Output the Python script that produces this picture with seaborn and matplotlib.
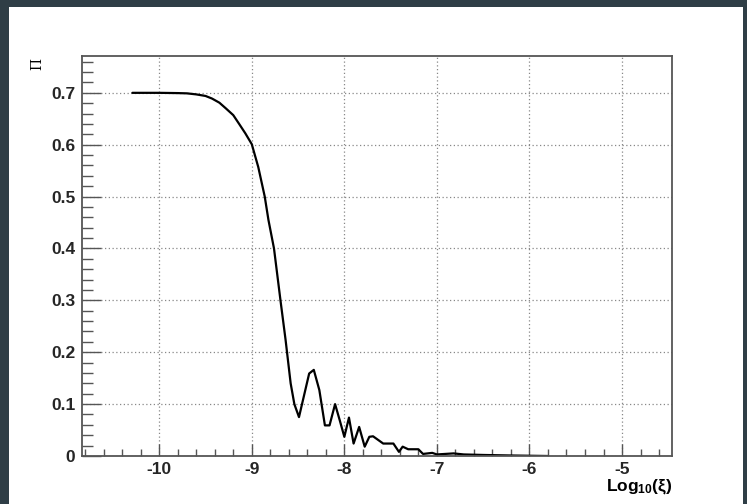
import numpy as np
import pandas as pd
import matplotlib
matplotlib.use("Agg")
import matplotlib.pyplot as plt
from matplotlib.patches import Rectangle
from matplotlib.ticker import MultipleLocator
import seaborn as sns

# ---- data ----
log_xi = [-10.29, -10.0, -9.8, -9.7, -9.6, -9.5, -9.43, -9.35, -9.28, -9.2,
          -9.14, -9.07, -9.0, -8.93, -8.86,
          -8.82, -8.76, -8.69, -8.635, -8.58, -8.54, -8.49, -8.38, -8.33, -8.27,
          -8.21, -8.16, -8.10, -8.05, -8.0, -7.95, -7.90, -7.84, -7.78, -7.73,
          -7.69, -7.58, -7.47, -7.41, -7.37, -7.31, -7.20, -7.15, -7.05, -7.0,
          -6.82, -6.71, -6.5, -6.2, -5.8]
pi_vals = [0.700, 0.700, 0.6995, 0.699, 0.697, 0.694, 0.689, 0.681, 0.670, 0.657,
           0.641, 0.622, 0.601, 0.557, 0.500,
           0.455, 0.400, 0.300, 0.224, 0.140, 0.100, 0.075, 0.159, 0.166, 0.127,
           0.059, 0.059, 0.100, 0.069, 0.037, 0.074, 0.024, 0.056, 0.018, 0.037,
           0.038, 0.024, 0.024, 0.008, 0.018, 0.013, 0.013, 0.004, 0.006, 0.003,
           0.005, 0.003, 0.002, 0.001, 0.000]
x_ticks = [-10, -9, -8, -7, -6, -5]
x_tick_labels = ["-10", "-9", "-8", "-7", "-6", "-5"]
y_ticks = [0, 0.1, 0.2, 0.3, 0.4, 0.5, 0.6, 0.7]
y_tick_labels = ["0", "0.1", "0.2", "0.3", "0.4", "0.5", "0.6", "0.7"]

df = pd.DataFrame({"x": log_xi, "y": pi_vals})

sns.set_style("white")
plt.rcParams["font.family"] = ["Liberation Sans", "DejaVu Sans"]
plt.rcParams["mathtext.fontset"] = "custom"
plt.rcParams["mathtext.rm"] = "Liberation Sans:bold"
plt.rcParams["mathtext.it"] = "Liberation Sans:bold"
plt.rcParams["mathtext.bf"] = "Liberation Sans:bold"

fig = plt.figure(figsize=(7.47, 5.04), dpi=100)
fig.patch.set_facecolor("#2f3e46")
fig.patches.append(Rectangle((9 / 747, 0), (743 - 9) / 747, (504 - 7) / 504,
                             transform=fig.transFigure, facecolor="white",
                             edgecolor="none", zorder=-10))

ax = fig.add_axes([82.4 / 747, 48 / 504, (672 - 82.4) / 747, (456 - 56) / 504])
ax.set_zorder(5)
ax.set_facecolor("white")

sns.lineplot(data=df, x="x", y="y", ax=ax, color="black", linewidth=1.6,
             estimator=None, sort=False)

ax.set_xlim(-10.83, -4.46)
ax.set_ylim(0, 0.771)
ax.set_xticks(x_ticks)
ax.set_xticklabels(x_tick_labels)
ax.set_yticks(y_ticks)
ax.set_yticklabels(y_tick_labels)
ax.xaxis.set_minor_locator(MultipleLocator(0.2))
ax.yaxis.set_minor_locator(MultipleLocator(0.02))

ax.tick_params(axis="x", which="both", bottom=True, top=False)
ax.tick_params(axis="y", which="both", left=True, right=False)
ax.tick_params(axis="x", which="major", direction="in", length=9, width=1,
               color="#555555", pad=4, labelsize=12.5)
ax.tick_params(axis="x", which="minor", direction="in", length=5, width=1,
               color="#555555")
ax.tick_params(axis="y", which="major", direction="in", length=14, width=1,
               color="#555555", pad=5, labelsize=12.5)
ax.tick_params(axis="y", which="minor", direction="in", length=8, width=1,
               color="#555555")
for lab in ax.get_xticklabels() + ax.get_yticklabels():
    lab.set_fontweight("bold")

ax.grid(True, which="major", linestyle=(0, (1, 2)), color="#888888", linewidth=0.9)
for s in ax.spines.values():
    s.set_visible(True)
    s.set_color("#555555")
    s.set_linewidth(1.3)

ax.set_xlabel("")
ax.set_ylabel("")

fig.text(672 / 747, 1 - 491 / 504, r"Log$_{10}$($\xi$)", ha="right", va="baseline",
         fontsize=12.5, fontweight="bold", color="black", zorder=10)
fig.text(37 / 747, 1 - 64 / 504, "Π", rotation=90, ha="center", va="center",
         fontsize=10, family=["DejaVu Serif", "DejaVu Sans"], color="black",
         zorder=10)

fig.savefig("out.png", dpi=100, facecolor=fig.get_facecolor())
